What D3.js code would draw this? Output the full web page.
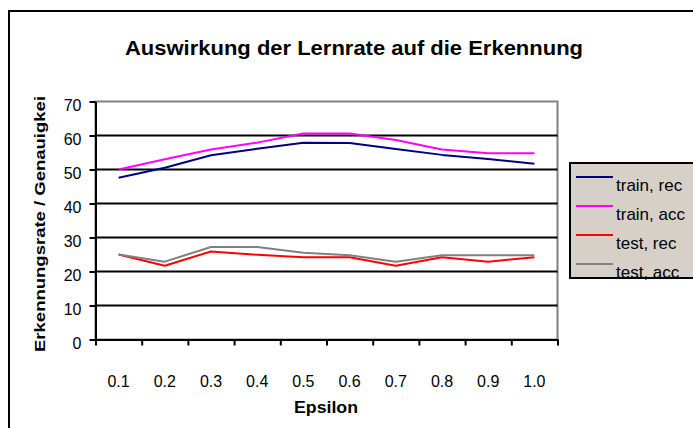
<!DOCTYPE html>
<html>
<head>
<meta charset="utf-8">
<script src="https://cdn.jsdelivr.net/npm/d3@7/dist/d3.min.js"></script>
<style>
  html, body { margin: 0; padding: 0; background: #fff; }
  svg { display: block; font-family: "Liberation Sans", Arial, sans-serif; }
</style>
</head>
<body>
<svg id="chart" width="693" height="428"></svg>
<script>
// Learning-rate sweep: recognition rate / accuracy per epsilon
const categories = ["0.1", "0.2", "0.3", "0.4", "0.5", "0.6", "0.7", "0.8", "0.9", "1.0"];
const trainRec = [47.6, 50.5, 54.2, 56.1, 57.9, 57.8, 56.0, 54.3, 53.1, 51.7];
const trainAcc = [50.0, 53.0, 55.9, 57.9, 60.6, 60.6, 58.7, 55.9, 54.8, 54.8];
const testRec  = [25.0, 21.7, 25.9, 24.9, 24.2, 24.2, 21.7, 24.2, 22.9, 24.2];
const testAcc  = [25.0, 22.9, 27.2, 27.2, 25.5, 24.8, 22.9, 24.8, 24.8, 24.8];
const yTicks = [0, 10, 20, 30, 40, 50, 60, 70];
const seriesNames = ["train, rec", "train, acc", "test, rec", "test, acc"];
const seriesColors = ["#000080", "#ff00ff", "#ff0000", "#808080"];
const seriesValues = [trainRec, trainAcc, testRec, testAcc];

const svg = d3.select("#chart");
const plot = { left: 95.5, right: 557.5, top: 101.5, bottom: 339.5 };
const font = "Liberation Sans, Arial, sans-serif";

// outer chart frame
svg.append("rect")
  .attr("x", 9).attr("y", 11).attr("width", 720).attr("height", 440)
  .attr("fill", "#fff").attr("stroke", "#000").attr("stroke-width", 2);

const x = d3.scaleBand().domain(categories).range([plot.left, plot.right]).padding(0);
const xEdge = d3.scaleLinear().domain([0, categories.length]).range([plot.left, plot.right]);
const y = d3.scaleLinear().domain([0, 70]).range([plot.bottom, plot.top]);

// plot area
svg.append("rect")
  .attr("x", plot.left).attr("y", plot.top)
  .attr("width", plot.right - plot.left).attr("height", plot.bottom - plot.top)
  .attr("fill", "#fff").attr("stroke", "#808080").attr("stroke-width", 2);

// horizontal gridlines
svg.append("g").selectAll("line")
  .data(yTicks.filter(v => v > 0 && v < 70))
  .join("line")
  .attr("x1", plot.left).attr("x2", plot.right)
  .attr("y1", d => y(d)).attr("y2", d => y(d))
  .attr("stroke", "#000").attr("stroke-width", 2);

// y axis
const yAxis = svg.append("g")
  .attr("transform", `translate(${plot.left},0)`)
  .call(d3.axisLeft(y).tickValues(yTicks).tickSize(6).tickPadding(8).tickSizeOuter(0));
yAxis.select(".domain").attr("stroke", "#000").attr("stroke-width", 2);
yAxis.selectAll(".tick line").attr("stroke", "#000").attr("stroke-width", 2);
yAxis.selectAll("text").attr("font-size", 16).attr("fill", "#000").attr("font-family", font)
  .attr("y", 4);

// x axis: ticks between categories, labels at centres
const xTickAxis = svg.append("g")
  .attr("transform", `translate(0,${plot.bottom})`)
  .call(d3.axisBottom(xEdge).tickValues(d3.range(0, categories.length + 1))
    .tickSize(6).tickSizeOuter(0).tickFormat(""));
xTickAxis.select(".domain").attr("stroke", "#000").attr("stroke-width", 2);
xTickAxis.selectAll(".tick line").attr("stroke", "#000").attr("stroke-width", 2);

const xLabelAxis = svg.append("g")
  .attr("transform", `translate(0,${plot.bottom})`)
  .call(d3.axisBottom(x).tickSize(0).tickPadding(36));
xLabelAxis.select(".domain").remove();
xLabelAxis.selectAll("text").attr("font-size", 16).attr("fill", "#000").attr("font-family", font);

// series lines
const line = d3.line()
  .x((d, i) => x(categories[i]) + x.bandwidth() / 2)
  .y(d => y(d));
svg.append("g").selectAll("path")
  .data(seriesValues)
  .join("path")
  .attr("d", d => line(d))
  .attr("fill", "none")
  .attr("stroke", (d, i) => seriesColors[i])
  .attr("stroke-width", 2)
  .attr("stroke-linejoin", "round");

// title
svg.append("text")
  .attr("x", 354).attr("y", 55)
  .attr("text-anchor", "middle")
  .attr("font-size", 20).attr("font-weight", "bold")
  .attr("textLength", 458).attr("lengthAdjust", "spacingAndGlyphs")
  .text("Auswirkung der Lernrate auf die Erkennung");

// axis titles
svg.append("text")
  .attr("x", 326).attr("y", 413)
  .attr("text-anchor", "middle")
  .attr("font-size", 16).attr("font-weight", "bold")
  .attr("textLength", 64).attr("lengthAdjust", "spacingAndGlyphs")
  .text("Epsilon");

svg.append("text")
  .attr("transform", "translate(44.5,224) rotate(-90)")
  .attr("text-anchor", "middle")
  .attr("font-size", 15).attr("font-weight", "bold")
  .attr("textLength", 256).attr("lengthAdjust", "spacingAndGlyphs")
  .text("Erkennungsrate / Genauigkei");

// legend
const legend = svg.append("g");
legend.append("rect")
  .attr("x", 570).attr("y", 163).attr("width", 140).attr("height", 115)
  .attr("fill", "#d6d0c8").attr("stroke", "#000").attr("stroke-width", 2);
const items = legend.selectAll("g.item")
  .data(seriesNames)
  .join("g")
  .attr("transform", (d, i) => `translate(0,${177 + i * 29})`);
items.append("line")
  .attr("x1", 576).attr("x2", 613).attr("y1", 0).attr("y2", 0)
  .attr("stroke", (d, i) => seriesColors[i]).attr("stroke-width", 2);
items.append("text")
  .attr("x", 616).attr("y", 14)
  .attr("font-size", 17)
  .text(d => d);
</script>
</body>
</html>
